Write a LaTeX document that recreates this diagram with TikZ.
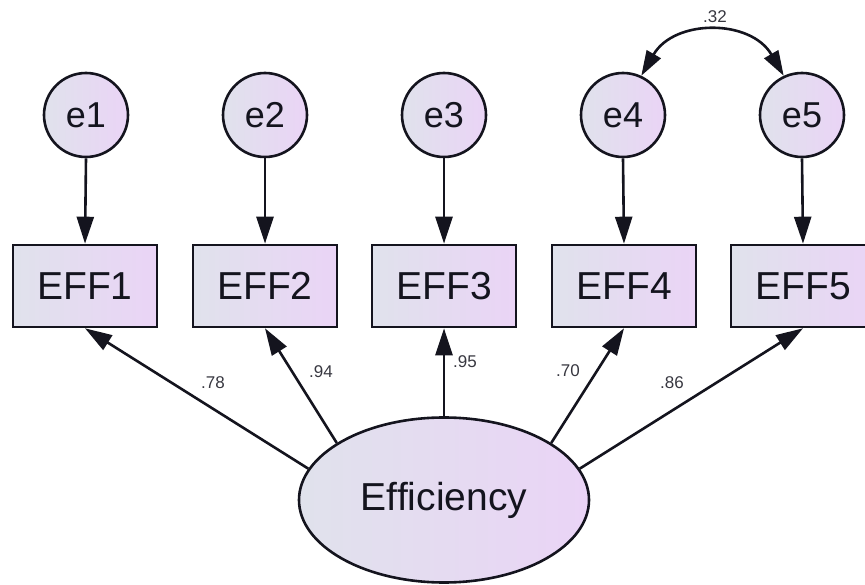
\documentclass[tikz,border=0pt]{standalone}
\usepackage{fontspec}
\setmainfont{Liberation Sans}
\usetikzlibrary{arrows.meta,shapes.geometric}
\definecolor{fillL}{RGB}{224,226,236}
\definecolor{fillR}{RGB}{234,212,246}
\definecolor{inkc}{RGB}{20,20,30}
\tikzset{
  base/.style={draw=inkc,line width=2.6pt,left color=fillL,right color=fillR,text=inkc},
  errc/.style={base,circle,minimum size=84pt,inner sep=0pt,font=\fontsize{36}{40}\selectfont},
  obsbox/.style={base,rectangle,minimum width=144pt,minimum height=82pt,inner sep=0pt,font=\fontsize{39}{44}\selectfont},
  latent/.style={base,ellipse,minimum width=290pt,minimum height=165pt,inner sep=0pt,font=\fontsize{39}{44}\selectfont},
  arr/.style={draw=inkc,line width=2.6pt,-{Triangle[length=27pt,width=17pt]}},
  darr/.style={draw=inkc,line width=2.6pt,{Triangle[length=25pt,width=16pt]}-{Triangle[length=25pt,width=16pt]}},
  coef/.style={font=\fontsize{17}{20}\selectfont,text=inkc!85,inner sep=0pt}
}
\begin{document}
\begin{tikzpicture}[x=1pt,y=-1pt]
\useasboundingbox (0,0) rectangle (865,585);
\clip (0,0) rectangle (865,585);
% error terms
\node[errc] (e1) at (86,115) {e1};
\node[errc] (e2) at (265,115) {e2};
\node[errc] (e3) at (444,115) {e3};
\node[errc] (e4) at (623,115) {e4};
\node[errc] (e5) at (802,115) {e5};
% observed
\node[obsbox] (b1) at (85,286) {EFF1};
\node[obsbox] (b2) at (265,286) {EFF2};
\node[obsbox] (b3) at (444,286) {EFF3};
\node[obsbox] (b4) at (624,286) {EFF4};
\node[obsbox] (b5) at (803,286) {EFF5};
% latent
\node[latent] (lat) at (444,500) {Efficiency};
% error arrows
\foreach \i in {1,...,5}{\draw[arr] (e\i.south) -- (b\i.north);}
% loadings
\draw[arr] (lat.167) -- (b1.south);
\draw[arr] (lat.152) -- (b2.south);
\draw[arr] (lat.north) -- (b3.south);
\draw[arr] (lat.28) -- (b4.south);
\draw[arr] (lat.13) -- (b5.south);
% covariance
\draw[darr] (e4.65) .. controls +(33,-57) and +(-33,-57) .. (e5.115);
% labels
\node[coef] (l1) at (213,383) {.78};
\node[coef] (l2) at (321,372) {.94};
\node[coef] (l3) at (465,362) {.95};
\node[coef] (l4) at (568,371) {.70};
\node[coef] (l5) at (672,383) {.86};
\node[coef] (l6) at (715,17) {.32};
\end{tikzpicture}
\end{document}
